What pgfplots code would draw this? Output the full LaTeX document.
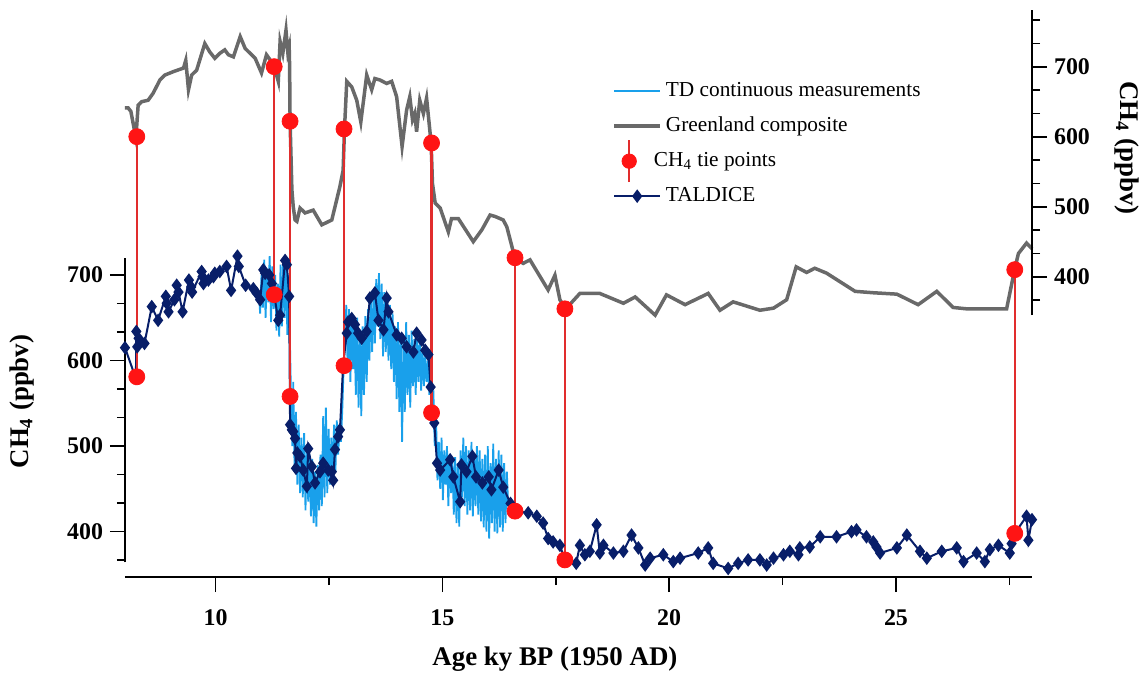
\documentclass[border=0pt]{standalone}
\usepackage{pgfplots}
\pgfplotsset{compat=1.18}
\usepackage{pgfplotstable}
\usepackage{fontspec}
\setmainfont{Liberation Serif}

\definecolor{tdblue}{RGB}{25,160,235}
\definecolor{navy}{RGB}{8,30,105}
\definecolor{glgray}{RGB}{105,105,105}
\definecolor{tiered}{RGB}{255,20,20}
\definecolor{tieline}{RGB}{225,45,45}

% Greenland composite (right-hand scale, ppbv)
\pgfplotstableread{
x r
8.00 641
8.07 641
8.13 636
8.20 612
8.24 598
8.29 645
8.37 650
8.51 652
8.62 662
8.77 681
8.88 688
9.07 693
9.29 698
9.34 709
9.40 667
9.47 688
9.58 695
9.76 733
9.87 721
9.98 712
10.09 719
10.20 724
10.28 717
10.39 714
10.54 743
10.65 726
10.76 719
10.87 712
11.01 691
11.12 717
11.23 707
11.29 700
11.38 679
11.42 736
11.48 719
11.55 752
11.59 721
11.62 729
11.63 700
11.64 622
11.68 524
11.71 500
11.75 481
11.79 479
11.86 498
11.97 491
12.15 495
12.34 474
12.56 481
12.74 529
12.81 552
12.84 611
12.89 679
13.00 671
13.11 652
13.20 621
13.33 688
13.44 667
13.51 683
13.62 681
13.77 676
13.88 679
13.99 657
14.11 586
14.21 638
14.28 657
14.34 624
14.39 633
14.43 607
14.50 652
14.58 633
14.65 655
14.75 591
14.78 533
14.84 505
14.95 498
15.13 464
15.20 483
15.35 483
15.68 450
15.87 467
16.05 488
16.16 486
16.34 481
16.42 471
16.60 426
16.78 419
16.93 424
17.33 381
17.48 402
17.59 367
17.72 354
18.03 376
18.47 376
18.99 362
19.25 371
19.69 345
19.94 374
20.35 360
20.86 376
21.12 352
21.41 364
22.00 352
22.30 355
22.59 367
22.80 414
23.03 406
23.21 412
23.47 405
24.10 379
24.50 377
25.02 375
25.49 360
25.90 379
26.26 356
26.56 354
27.44 354
27.62 411
27.70 433
27.88 448
28.00 440
}\greenland

% TALDICE discrete record (left-hand scale, ppbv)
\pgfplotstableread{
x y
8.00 615
8.24 579
8.25 634
8.27 616
8.30 626
8.35 622
8.43 620
8.59 663
8.73 647
8.90 675
8.92 667
8.96 657
9.09 671
9.14 688
9.18 680
9.27 657
9.41 694
9.46 686
9.48 680
9.69 704
9.71 698
9.73 690
9.84 694
9.95 698
9.98 702
10.09 704
10.24 710
10.34 682
10.48 722
10.51 710
10.66 688
10.83 684
10.90 679
10.98 671
11.05 706
11.09 702
11.18 700
11.24 690
11.29 677
11.38 647
11.42 653
11.53 717
11.57 712
11.62 675
11.64 525
11.68 519
11.71 517
11.75 509
11.77 474
11.80 492
11.86 488
11.93 472
12.01 453
12.04 497
12.12 476
12.19 457
12.30 470
12.37 480
12.48 472
12.56 470
12.59 460
12.63 496
12.70 511
12.74 519
12.81 595
12.89 632
12.92 645
13.00 649
13.07 642
13.14 632
13.22 626
13.33 634
13.40 673
13.51 679
13.59 647
13.70 636
13.77 673
13.81 657
13.99 630
14.10 626
14.21 616
14.36 610
14.43 632
14.54 624
14.62 612
14.69 607
14.74 569
14.77 538
14.82 527
14.88 480
14.95 472
15.17 484
15.24 464
15.39 435
15.42 478
15.53 470
15.66 488
15.74 464
15.88 457
16.02 464
16.08 449
16.24 472
16.34 452
16.50 433
16.60 424
16.89 422
17.08 418
17.22 410
17.33 392
17.44 388
17.59 384
17.70 367
17.95 363
18.03 384
18.14 373
18.25 377
18.40 408
18.47 375
18.55 384
18.77 375
18.99 377
19.17 396
19.32 381
19.47 361
19.58 369
19.87 373
20.09 365
20.24 369
20.64 375
20.86 381
20.97 363
21.30 357
21.52 363
21.74 367
22.00 367
22.15 361
22.30 369
22.52 373
22.66 377
22.85 373
22.88 381
23.10 382
23.33 394
23.69 394
24.02 400
24.13 402
24.35 394
24.50 388
24.57 382
24.65 375
25.02 381
25.24 396
25.53 377
25.68 369
26.01 377
26.34 381
26.49 365
26.78 375
26.96 365
27.07 379
27.26 384
27.51 375
27.55 386
27.62 398
27.88 418
27.92 390
28.00 414
}\taldice

% TD continuous measurements (left-hand scale, ppbv)
\pgfplotstableread{
x y
10.95 680
10.98 655
11.01 700
11.04 662
11.07 718
11.10 650
11.13 705
11.16 668
11.19 722
11.22 645
11.25 710
11.28 660
11.31 700
11.34 635
11.37 690
11.40 628
11.43 712
11.46 640
11.49 720
11.52 650
11.55 715
11.58 630
11.61 700
11.63 640
11.66 560
11.69 500
11.71 575
11.74 470
11.77 540
11.80 455
11.83 525
11.86 445
11.89 510
11.92 440
11.95 515
11.98 425
12.01 500
12.04 435
12.07 490
12.10 418
12.13 485
12.16 410
12.19 470
12.22 406
12.25 478
12.28 425
12.31 490
12.34 430
12.37 535
12.40 440
12.43 545
12.46 445
12.49 520
12.52 455
12.55 510
12.58 460
12.61 525
12.64 470
12.67 530
12.70 490
12.73 520
12.76 505
12.79 540
12.82 590
12.85 620
12.88 665
12.91 590
12.94 660
12.97 575
13.00 655
13.03 590
13.06 640
13.09 560
13.12 650
13.15 545
13.18 630
13.21 535
13.24 640
13.27 560
13.30 652
13.33 575
13.36 660
13.39 600
13.42 672
13.45 610
13.48 680
13.51 620
13.54 695
13.57 640
13.60 702
13.63 625
13.66 690
13.69 605
13.72 680
13.75 610
13.78 672
13.81 600
13.84 665
13.87 590
13.90 655
13.93 575
13.96 640
13.99 555
14.02 645
14.05 540
14.08 630
14.11 505
14.14 625
14.17 540
14.20 645
14.23 560
14.26 630
14.29 545
14.32 635
14.35 570
14.38 625
14.41 560
14.44 630
14.47 575
14.50 622
14.53 565
14.56 615
14.59 570
14.62 605
14.65 575
14.68 600
14.71 560
14.74 580
14.77 540
14.80 565
14.83 500
14.86 530
14.89 460
14.92 505
14.95 450
14.98 510
15.01 437
15.04 495
15.07 455
15.10 500
15.13 430
15.16 490
15.19 445
15.22 485
15.25 420
15.28 487
15.31 410
15.34 480
15.37 406
15.40 495
15.43 440
15.46 510
15.49 430
15.52 500
15.55 420
15.58 495
15.61 425
15.64 505
15.67 418
15.70 490
15.73 430
15.76 500
15.79 420
15.82 495
15.85 412
15.88 485
15.91 405
15.94 490
15.97 400
16.00 500
16.03 392
16.06 480
16.09 410
16.12 503
16.15 400
16.18 485
16.21 398
16.24 495
16.27 405
16.30 490
16.33 400
16.36 480
16.39 410
16.42 470
16.45 430
}\tdcont

% CH4 tie points: age, TALDICE value (left scale), Greenland value (right scale)
\pgfplotstableread{
x tl gr
8.26 581 600
11.29 677 700
11.64 558 622
12.83 594 611
14.76 539 591
16.60 424 427
17.70 367 354
27.62 398 410
}\ties

\begin{document}
\begin{tikzpicture}
\begin{axis}[
  name=main,
  scale only axis, width=453.5bp, height=283.5bp,
  xmin=8, xmax=28, ymin=347, ymax=1009.7,
  clip=false,
  axis x line*=bottom, axis y line*=left,
  x axis line style={-, line width=1bp},
  y axis line style={draw=none},
  xtick={10,15,20,25}, minor xtick={12.5,17.5,22.5,27.5},
  ytick={400,500,600,700},
  minor ytick={366.67,433.33,466.67,533.33,566.67,633.33,666.67},
  tick align=outside,
  major tick length=7.5bp, minor tick length=4bp,
  every tick/.style={black, line width=0.8bp},
  /pgf/number format/assume math mode=true,
  ticklabel style={font=\bfseries\fontsize{12}{14}\selectfont},
  xticklabel style={anchor=base, yshift=-16.5bp},
  every axis x label/.style={at={(axis description cs:0.474,0)}, anchor=base, yshift=-44bp, font=\bfseries\fontsize{13.5}{16}\selectfont},
  every axis y label/.style={at={(axis description cs:-0.1139,0.3095)}, rotate=90, anchor=center, font=\bfseries\fontsize{13.5}{16}\selectfont},
  xlabel={Age ky BP (1950 AD)},
  ylabel={CH\textsubscript{4} (ppbv)},
  legend image code/.code={\draw[mark repeat=2,mark phase=2,#1] plot coordinates {(0bp,0bp) (11.5bp,0bp) (23bp,0bp)};},
  legend cell align=left,
  legend style={at={(axis description cs:0.537,0.8884)}, anchor=north west, draw=none, fill=none,
    inner sep=0pt, row sep=0pt, font=\fontsize{10.7}{12}\selectfont,
    nodes={text height=7.5bp, text depth=2.5bp, inner ysep=3.75bp},
    /tikz/every odd column/.append style={column sep=-6bp}},
]
\addplot[glgray, line width=1.75bp, forget plot] table[x=x, y expr=370.8+0.8181*\thisrow{r}] {\greenland};
\addplot[tdblue, line width=0.9bp, forget plot] table[x=x, y=y] {\tdcont};
\addplot[navy, line width=1bp, mark=diamond*, mark size=2.6bp, mark options={solid, fill=navy}, forget plot] table[x=x, y=y] {\taldice};
\addplot[only marks, mark=none, forget plot,
  error bars/.cd, y dir=plus, y explicit, error mark=none,
  error bar style={draw=tieline, line width=1.1bp}]
  table[x=x, y=tl, y error expr=370.8+0.8181*\thisrow{gr}-\thisrow{tl}] {\ties};
\addplot[only marks, mark=*, mark size=4bp, color=tiered, forget plot] table[x=x, y=tl] {\ties};
\addplot[only marks, mark=*, mark size=4bp, color=tiered, forget plot] table[x=x, y expr=370.8+0.8181*\thisrow{gr}] {\ties};

\addlegendimage{tdblue, line width=0.9bp}
\addlegendentry{TD continuous measurements}
\addlegendimage{glgray, line width=1.75bp}
\addlegendentry{Greenland composite}
\addlegendimage{legend image code/.code={\draw[overlay, tieline, line width=1.1bp] (7.5bp,-10.5bp) -- (7.5bp,10.5bp); \fill[tiered] (7.5bp,0bp) circle (3.6bp);}}
\addlegendentry[xshift=-6bp]{CH\textsubscript{4} tie points}
\addlegendimage{navy, line width=1bp, mark=diamond*, mark size=2.6bp, mark options={fill=navy}}
\addlegendentry{TALDICE}

\draw[line width=1bp] (axis cs:8,364) -- (axis cs:8,720);
\end{axis}

\begin{axis}[
  scale only axis, width=453.5bp, height=283.5bp,
  at={(main.south west)}, anchor=south west,
  xmin=8, xmax=28, ymin=-29, ymax=781,
  clip=false,
  axis x line=none,
  axis y line*=right,
  y axis line style={draw=none},
  ytick={400,500,600,700},
  minor ytick={366.67,433.33,466.67,533.33,566.67,633.33,666.67,733.33,766.67},
  tick align=outside,
  major tick length=7.5bp, minor tick length=4bp,
  every tick/.style={black, line width=0.8bp},
  /pgf/number format/assume math mode=true,
  ticklabel style={font=\bfseries\fontsize{12}{14}\selectfont},
  every axis y label/.style={at={(axis description cs:1.1047,0.7566)}, rotate=-90, anchor=center, font=\bfseries\fontsize{13.5}{16}\selectfont},
  ylabel={CH\textsubscript{4} (ppbv)},
]
\draw[line width=1bp] (axis cs:28,345) -- (axis cs:28,781);
\end{axis}

\pgfresetboundingbox
\path[use as bounding box] ([shift={(-62.5bp,-48.5bp)}]main.south west) rectangle ([shift={(58bp,5bp)}]main.north east);
\end{tikzpicture}
\end{document}
